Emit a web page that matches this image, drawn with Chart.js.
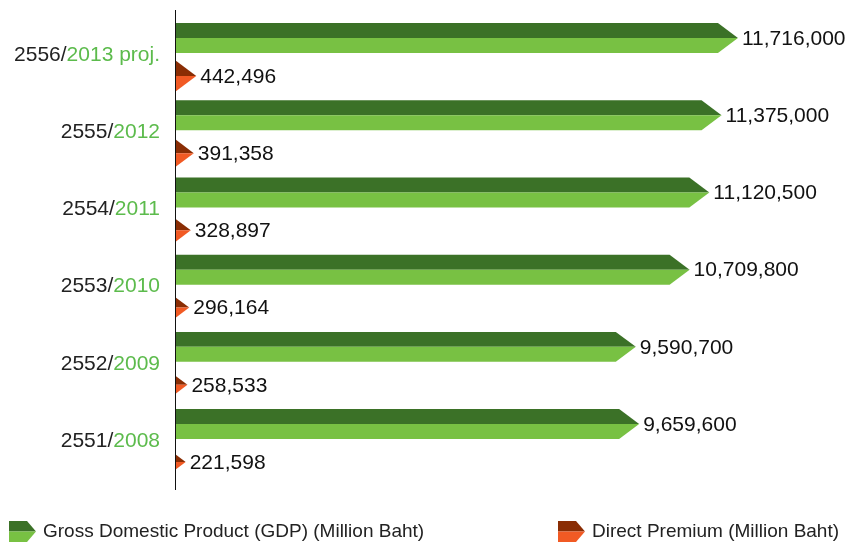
<!DOCTYPE html>
<html>
<head>
<meta charset="utf-8">
<script src="https://cdn.jsdelivr.net/npm/chart.js@4"></script>
<style>
  html, body { margin: 0; padding: 0; background: #fff; }
  #wrap { width: 847px; height: 542px; }
</style>
</head>
<body>
<div id="wrap"><canvas id="c" width="847" height="542"></canvas></div>
<script>
// ---- data ----
const yearsThai = ['2556', '2555', '2554', '2553', '2552', '2551'];
const yearsAD = ['2013 proj.', '2012', '2011', '2010', '2009', '2008'];
const gdpValues = [11716000, 11375000, 11120500, 10709800, 9590700, 9659600];
const premiumValues = [442496, 391358, 328897, 296164, 258533, 221598];
const seriesNames = ['Gross Domestic Product (GDP) (Million Baht)', 'Direct Premium (Million Baht)'];

// ---- styles ----
const FONT = 'Arial, "Liberation Sans", sans-serif';
const gdpColors = { dark: '#3b7127', light: '#78c143' };
const premColors = { dark: '#8a2d04', light: '#f15a24' };
const HEAD = 20;

const labels = yearsThai.map((t, i) => t + '/' + yearsAD[i]);

function arrowHalves(ctx, base, tip, yc, h, colors) {
  const top = yc - h / 2, bot = yc + h / 2;
  const neck = tip - HEAD;
  ctx.beginPath();
  ctx.moveTo(Math.min(base, neck), top);
  ctx.lineTo(neck, top);
  ctx.lineTo(tip, yc);
  ctx.lineTo(Math.min(base, neck), yc);
  ctx.closePath();
  ctx.fillStyle = colors.dark;
  ctx.fill();
  ctx.beginPath();
  ctx.moveTo(Math.min(base, neck), yc);
  ctx.lineTo(tip, yc);
  ctx.lineTo(neck, bot);
  ctx.lineTo(Math.min(base, neck), bot);
  ctx.closePath();
  ctx.fillStyle = colors.light;
  ctx.fill();
}

const arrowPlugin = {
  id: 'arrows',
  afterDatasetsDraw(chart) {
    const ctx = chart.ctx;
    const fmt = v => v.toLocaleString('en-US');
    chart.data.datasets.forEach((ds, di) => {
      const meta = chart.getDatasetMeta(di);
      const colors = di === 0 ? gdpColors : premColors;
      meta.data.forEach((el, i) => {
        const p = el.getProps(['x', 'y', 'base', 'height'], true);
        ctx.save();
        ctx.beginPath();
        ctx.rect(p.base, 0, chart.width, chart.height);
        ctx.clip();
        arrowHalves(ctx, p.base, p.x, p.y, p.height, colors);
        ctx.restore();
        ctx.save();
        ctx.font = '21px ' + FONT;
        ctx.fillStyle = '#111';
        ctx.textAlign = 'left';
        ctx.textBaseline = 'middle';
        ctx.fillText(fmt(ds.data[i]), p.x + 4, p.y + 1);
        ctx.restore();
      });
    });
  },
  afterDraw(chart) {
    const ctx = chart.ctx;
    const yScale = chart.scales.y;
    const area = chart.chartArea;
    // axis line
    ctx.save();
    ctx.strokeStyle = '#111';
    ctx.lineWidth = 1;
    ctx.beginPath();
    ctx.moveTo(Math.round(area.left) + 0.5, 10);
    ctx.lineTo(Math.round(area.left) + 0.5, 490);
    ctx.stroke();
    ctx.restore();
    // category labels (two colours)
    ctx.save();
    ctx.font = '21px ' + FONT;
    ctx.textBaseline = 'middle';
    ctx.textAlign = 'left';
    yearsThai.forEach((t, i) => {
      const y = yScale.getPixelForValue(i) - 2;
      const p1 = t + '/';
      const p2 = yearsAD[i];
      const w1 = ctx.measureText(p1).width;
      const w2 = ctx.measureText(p2).width;
      const right = 160;
      const x0 = right - w1 - w2;
      ctx.fillStyle = '#222';
      ctx.fillText(p1, x0, y);
      ctx.fillStyle = '#5cbb4c';
      ctx.fillText(p2, x0 + w1, y);
    });
    ctx.restore();
    // legend
    const legendItems = [
      { x: 9, colors: gdpColors, text: seriesNames[0] },
      { x: 558, colors: premColors, text: seriesNames[1] }
    ];
    ctx.save();
    legendItems.forEach(it => {
      const yc = 531.5, h = 21;
      const tip = it.x + 27;
      const neck = it.x + 18;
      ctx.beginPath();
      ctx.moveTo(it.x, yc - h / 2);
      ctx.lineTo(neck, yc - h / 2);
      ctx.lineTo(tip, yc);
      ctx.lineTo(it.x, yc);
      ctx.closePath();
      ctx.fillStyle = it.colors.dark;
      ctx.fill();
      ctx.beginPath();
      ctx.moveTo(it.x, yc);
      ctx.lineTo(tip, yc);
      ctx.lineTo(neck, yc + h / 2);
      ctx.lineTo(it.x, yc + h / 2);
      ctx.closePath();
      ctx.fillStyle = it.colors.light;
      ctx.fill();
      ctx.font = '19px ' + FONT;
      ctx.fillStyle = '#222';
      ctx.textAlign = 'left';
      ctx.textBaseline = 'middle';
      ctx.fillText(it.text, tip + 7, yc);
    });
    ctx.restore();
  }
};

new Chart(document.getElementById('c'), {
  type: 'bar',
  data: {
    labels: labels,
    datasets: [
      { label: seriesNames[0], data: gdpValues, backgroundColor: 'rgba(0,0,0,0)', borderWidth: 0,
        categoryPercentage: 0.983, barPercentage: 0.79 },
      { label: seriesNames[1], data: premiumValues, backgroundColor: 'rgba(0,0,0,0)', borderWidth: 0,
        categoryPercentage: 0.983, barPercentage: 0.79 }
    ]
  },
  options: {
    indexAxis: 'y',
    responsive: false,
    devicePixelRatio: 1,
    animation: false,
    layout: { padding: { left: 175, right: 95.4, top: 18.3, bottom: 60.3 } },
    scales: {
      x: { type: 'linear', min: 0, max: 12000000, display: false },
      y: { type: 'category', display: false }
    },
    plugins: {
      legend: { display: false },
      tooltip: { enabled: false }
    }
  },
  plugins: [arrowPlugin]
});
</script>
</body>
</html>
